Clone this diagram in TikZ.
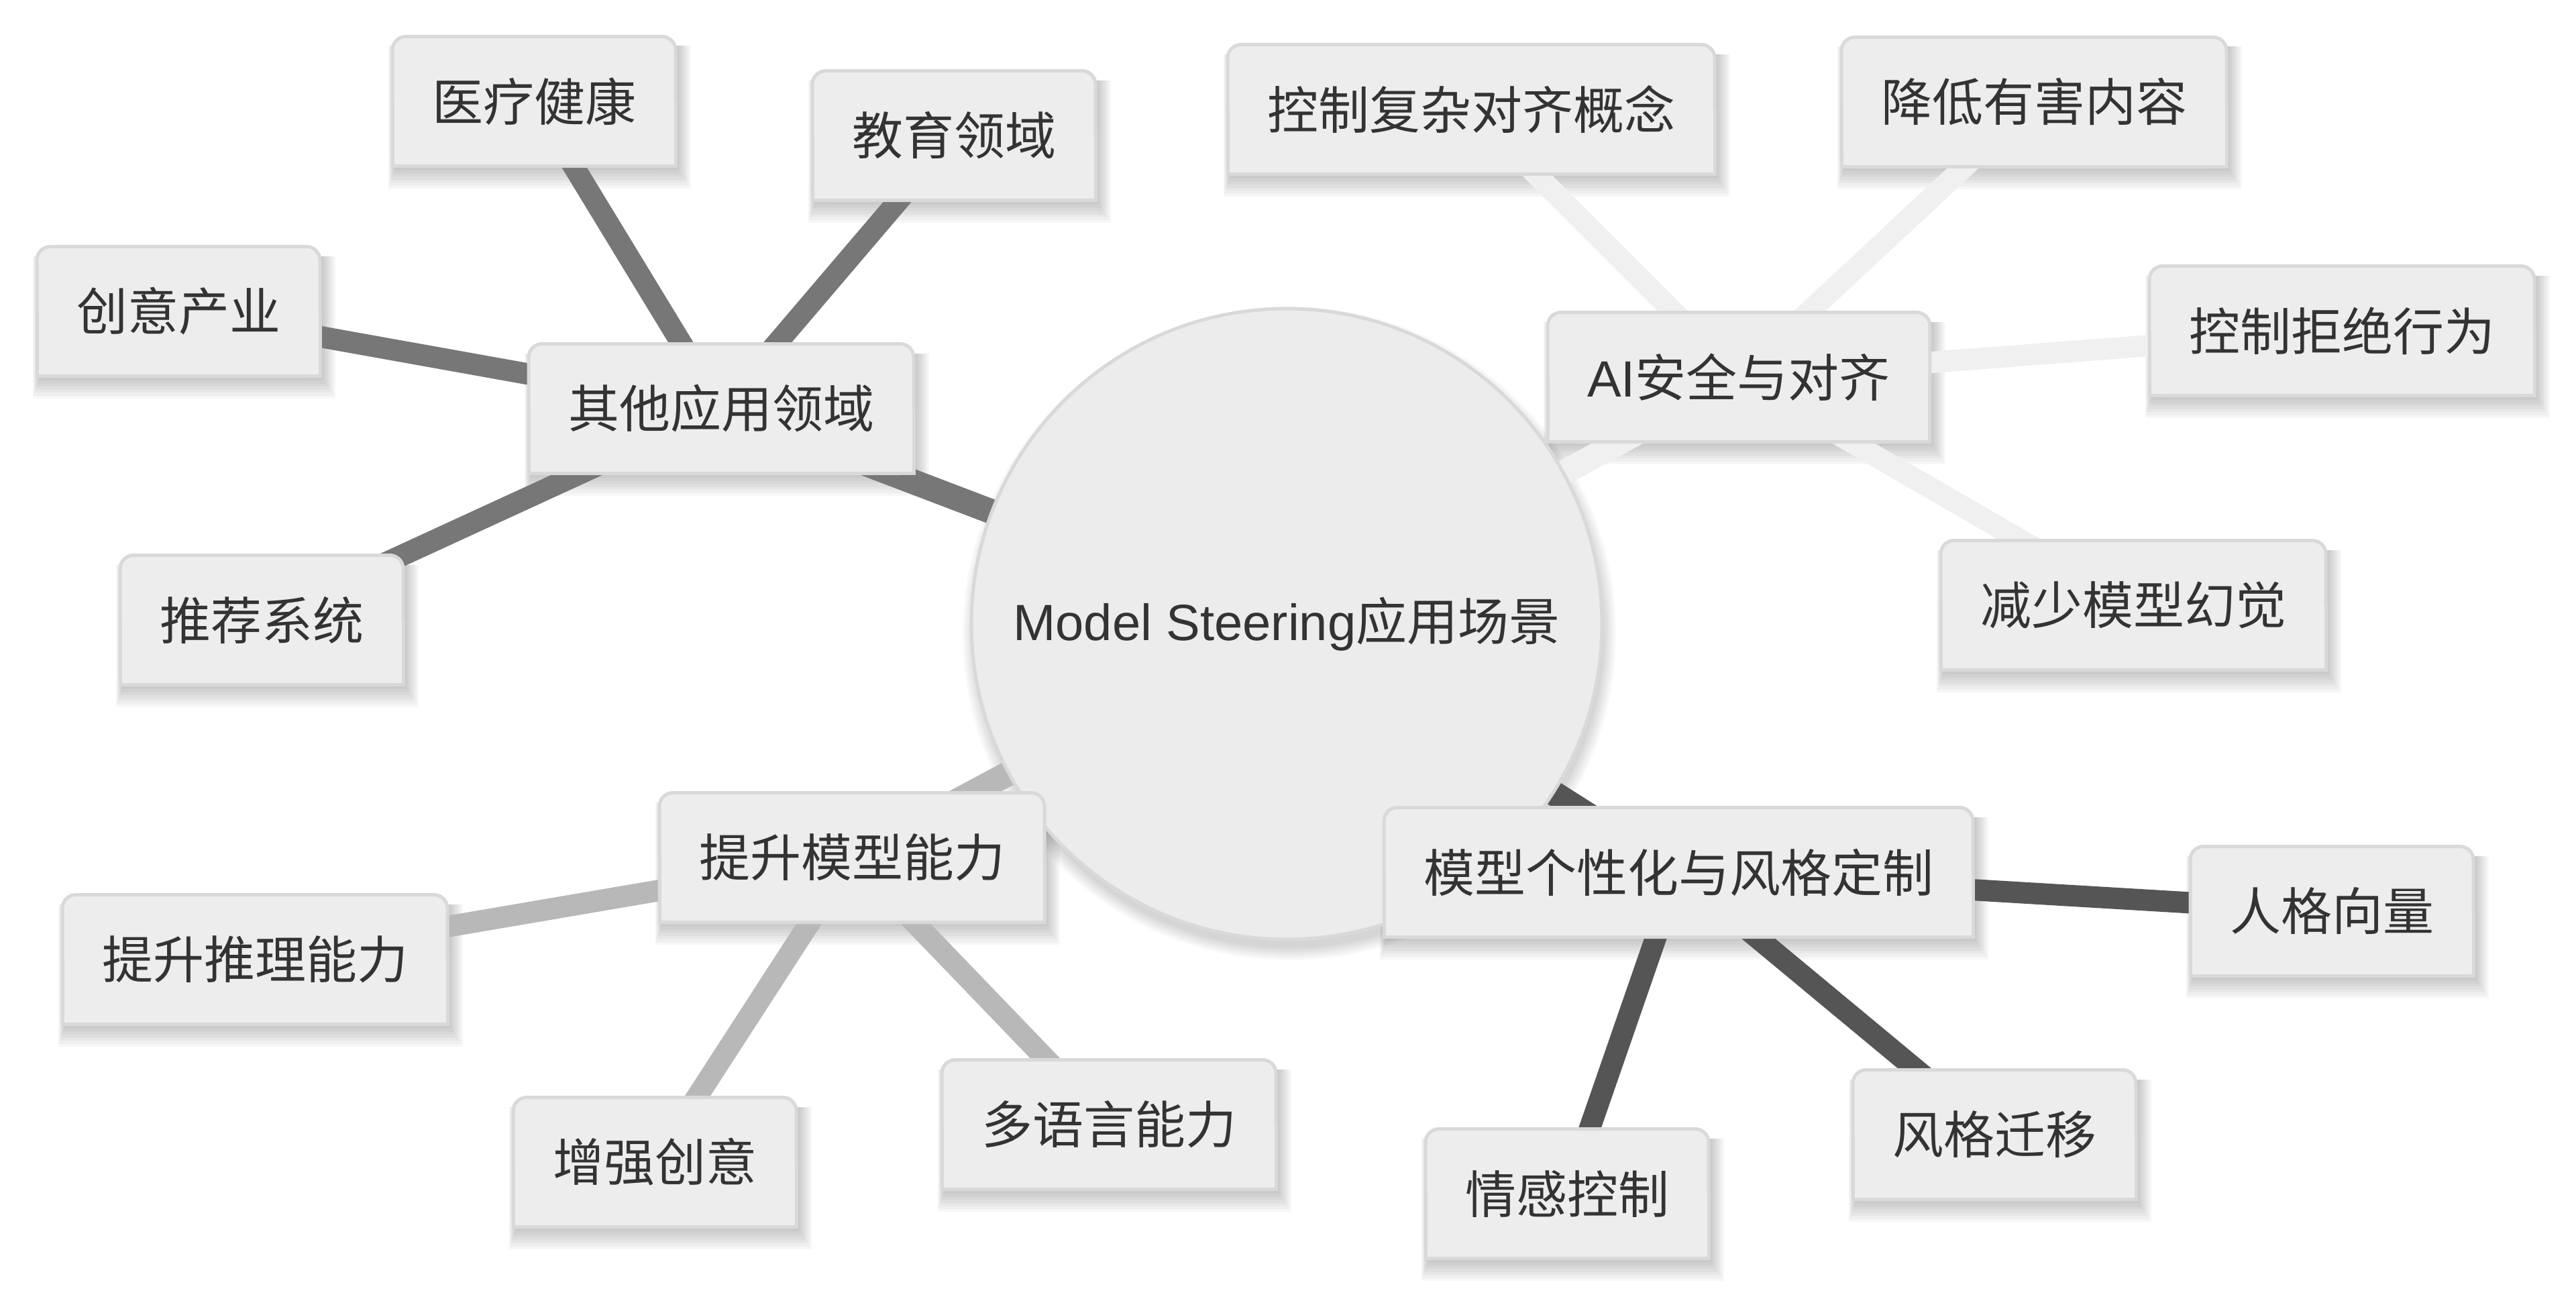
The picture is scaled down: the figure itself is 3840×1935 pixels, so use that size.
\documentclass[tikz,border=0pt]{standalone}
\usepackage{fontspec}
\setmainfont{Noto Sans CJK SC}
\newfontfamily\lat{Liberation Sans}
\definecolor{boxfill}{HTML}{EDEDED}
\definecolor{circfill}{HTML}{ECECEC}
\definecolor{boxborder}{HTML}{D9D9D9}
\definecolor{txt}{HTML}{333333}
\definecolor{eoth}{HTML}{777777}
\definecolor{eai}{HTML}{F0F0F0}
\definecolor{epers}{HTML}{555555}
\definecolor{eboost}{HTML}{B8B8B8}
\pgfdeclarelayer{bg}
\pgfdeclarelayer{shadow}
\pgfdeclarelayer{edges}
\pgfdeclarelayer{boxes}
\pgfsetlayers{bg,shadow,edges,boxes,main}
\tikzset{
  mbox/.style={rectangle, minimum height=193pt, inner xsep=59pt, inner ysep=0pt, outer sep=0pt, text=txt, font=\fontsize{76}{90}\selectfont},
  boxpaint/.style={fill=boxfill, draw=boxborder, line width=5pt},
  edge/.style={line width=32pt},
  rootedge/.style={line width=37pt},
}
\newcommand\mkbox[1]{%
  \begin{pgfonlayer}{shadow}
    \foreach \i in {1,...,7}{%
      \fill[black, opacity=0.03] ([xshift=4pt-\i*1.5pt, yshift=-14pt]#1.north west) rectangle ([xshift=2pt+\i*3pt, yshift=-2pt-\i*4.5pt]#1.south east);
    }
  \end{pgfonlayer}
  \begin{pgfonlayer}{boxes}
    \filldraw[boxpaint, rounded corners=20pt] (#1.south west) rectangle (#1.north east);
    \filldraw[boxpaint] (#1.west) -- (#1.south west) -- (#1.south east) -- (#1.east);
  \end{pgfonlayer}}
\begin{document}
\begin{tikzpicture}[x=1pt, y=-1pt]
\useasboundingbox (0,0) rectangle (3840,1935);
\begin{pgfonlayer}{bg}
  \fill[white] (0,0) rectangle (3840,1935);
\end{pgfonlayer}
% center
\begin{pgfonlayer}{shadow}
  \foreach \i in {1,...,7}{%
    \fill[black, opacity=0.025] (1922,944) circle[radius=466+\i*3];
  }
\end{pgfonlayer}
\begin{pgfonlayer}{boxes}
  \node[circle, minimum size=940pt, inner sep=0pt, outer sep=0pt, fill=circfill, draw=boxborder, line width=5pt, text=txt, font=\fontsize{76}{90}\selectfont] (c) at (1918,930) {{\lat Model Steering}应用场景};
\end{pgfonlayer}
% main branches
\node[mbox] (oth) at (1075,609) {其他应用领域};
\node[mbox] (ai) at (2592,562) {{\lat AI}安全与对齐};
\node[mbox] (pers) at (2502,1300) {模型个性化与风格定制};
\node[mbox] (boost) at (1270,1278) {提升模型能力};
% leaves
\node[mbox] (med) at (796,151) {医疗健康};
\node[mbox] (edu) at (1422,202) {教育领域};
\node[mbox] (cre) at (266,464) {创意产业};
\node[mbox] (rec) at (390,924) {推荐系统};
\node[mbox] (cplx) at (2193,163) {控制复杂对齐概念};
\node[mbox] (harm) at (3032,152) {降低有害内容};
\node[mbox] (refu) at (3491,493) {控制拒绝行为};
\node[mbox] (hal) at (3180,902) {减少模型幻觉};
\node[mbox] (vec) at (3476,1358) {人格向量};
\node[mbox] (sty) at (2973,1691) {风格迁移};
\node[mbox] (emo) at (2336,1779) {情感控制};
\node[mbox] (reas) at (380,1430) {提升推理能力};
\node[mbox] (crt) at (976,1732) {增强创意};
\node[mbox] (lang) at (1653,1676) {多语言能力};
\foreach \n in {oth,ai,pers,boost,med,edu,cre,rec,cplx,harm,refu,hal,vec,sty,emo,reas,crt,lang}{\mkbox{\n}}
% edges
\begin{pgfonlayer}{edges}
  \draw[rootedge, eoth] (c.center) -- (oth.center);
  \draw[rootedge, eai] (c.center) -- (ai.center);
  \draw[rootedge, epers] (c.center) -- (pers.center);
  \draw[rootedge, eboost] (c.center) -- (boost.center);
  \foreach \n in {med,edu,cre,rec}{\draw[edge, eoth] (oth.center) -- (\n.center);}
  \foreach \n in {cplx,harm,refu,hal}{\draw[edge, eai] (ai.center) -- (\n.center);}
  \foreach \n in {vec,sty,emo}{\draw[edge, epers] (pers.center) -- (\n.center);}
  \foreach \n in {reas,crt,lang}{\draw[edge, eboost] (boost.center) -- (\n.center);}
\end{pgfonlayer}
\end{tikzpicture}
\end{document}
